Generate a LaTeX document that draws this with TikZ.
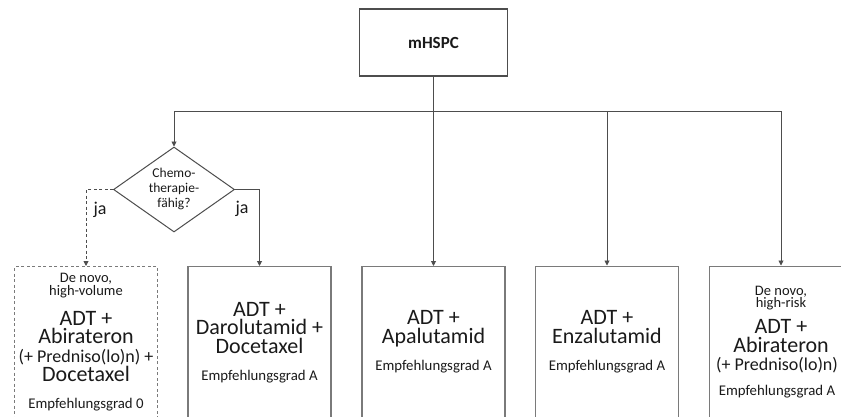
\documentclass[tikz,border=0pt]{standalone}
\usepackage{fontspec}
\setmainfont{Carlito}
\usetikzlibrary{arrows.meta,shapes.geometric}
\definecolor{boxc}{HTML}{7A7A7A}
\definecolor{linec}{HTML}{4D4D4D}
\definecolor{txtc}{HTML}{1A1A1A}
\begin{document}
\begin{tikzpicture}[x=1pt,y=-1pt,
  box/.style={draw=boxc, line width=1.3pt, minimum width=143pt, minimum height=158pt, anchor=north, inner sep=0pt},
  dbox/.style={box, dash pattern=on 3pt off 2.5pt},
  conn/.style={draw=linec, line width=0.9pt},
  arr/.style={conn, -{Triangle[length=5pt,width=5pt]}},
  dconn/.style={arr, dash pattern=on 3pt off 2.5pt},
  ln/.style={anchor=base, inner sep=0pt, text=txtc},
  fB/.style={ln, font=\fontsize{22}{22}\selectfont},
  fM/.style={ln, font=\fontsize{18}{18}\selectfont},
  fE/.style={ln, font=\fontsize{14.8}{15}\selectfont},
  fS/.style={ln, font=\fontsize{14.5}{15}\selectfont},
  fD/.style={ln, font=\fontsize{13.5}{14}\selectfont},
  fJ/.style={ln, font=\fontsize{18}{18}\selectfont},
]
\useasboundingbox (0,0) rectangle (841,416);
\fill[white] (0,0) rectangle (841,416);

% top box
\node[draw=linec, line width=1.3pt, minimum width=148pt, minimum height=67pt, inner sep=0pt,
      font=\fontsize{17}{17}\selectfont\bfseries, text=txtc] (top) at (433.5,42.5) {mHSPC};

% diamond
\node[draw=linec, line width=1pt, diamond, aspect=1.42, minimum width=121pt, minimum height=85pt, inner sep=0pt] (dia) at (174,189.5) {};
\node[fD] (d1) at (174,177) {Chemo-};
\node[fD] (d2) at (174,192.5) {therapie-};
\node[fD] (d3) at (174,207) {fähig?};

% boxes
\node[dbox] (b1) at (86,266) {};
\node[box] (b2) at (259.5,266) {};
\node[box] (b3) at (433.5,266) {};
\node[box] (b4) at (607,265.5) {};
\node[box] (b5) at (781,265.5) {};

% box 1 text
\node[fS] (b1a) at (86,282.5) {De novo,};
\node[fS] (b1b) at (86,295) {high-volume};
\node[fB] (b1c) at (86,325) {ADT +};
\node[fB] (b1d) at (86,343.5) {Abirateron};
\node[fM] (b1e) at (86,362) {(+ Predniso(lo)n) +};
\node[fB] (b1f) at (86,381) {Docetaxel};
\node[fE] (b1g) at (86,408) {Empfehlungsgrad 0};

% box 2 text
\node[fB] (b2a) at (259.5,316) {ADT +};
\node[fB] (b2b) at (259.5,334.5) {Darolutamid +};
\node[fB] (b2c) at (259.5,353) {Docetaxel};
\node[fE] (b2d) at (259.5,380) {Empfehlungsgrad A};

% box 3 text
\node[fB] (b3a) at (433.5,324.5) {ADT +};
\node[fB] (b3b) at (433.5,343) {Apalutamid};
\node[fE] (b3c) at (433.5,370) {Empfehlungsgrad A};

% box 4 text
\node[fB] (b4a) at (607,324.5) {ADT +};
\node[fB] (b4b) at (607,343) {Enzalutamid};
\node[fE] (b4c) at (607,370) {Empfehlungsgrad A};

% box 5 text
\node[fS] (b5a) at (781,295) {De novo,};
\node[fS] (b5b) at (781,307.5) {high-risk};
\node[fB] (b5c) at (781,333.5) {ADT +};
\node[fB] (b5d) at (781,352.5) {Abirateron};
\node[fM] (b5e) at (777,370.5) {(+ Predniso(lo)n)};
\node[fE] (b5f) at (777,395) {Empfehlungsgrad A};

% ja labels
\node[fJ] (ja1) at (100,214) {ja};
\node[fJ] (ja2) at (242,213) {ja};

% connectors
\coordinate (hy) at (0,111);
\draw[conn] (top.south) -- (top.south |- hy);
\draw[conn] (dia.north |- hy) -- (b5.north |- hy);
\draw[arr] (dia.north |- hy) -- (dia.north);
\draw[arr] (top.south |- hy) -- (b3.north);
\draw[arr] (b4.north |- hy) -- (b4.north);
\draw[arr] (b5.north |- hy) -- (b5.north);
\draw[arr] (dia.east) -| (b2.north);
\draw[dconn] (dia.west) -| (b1.north);
\end{tikzpicture}
\end{document}
